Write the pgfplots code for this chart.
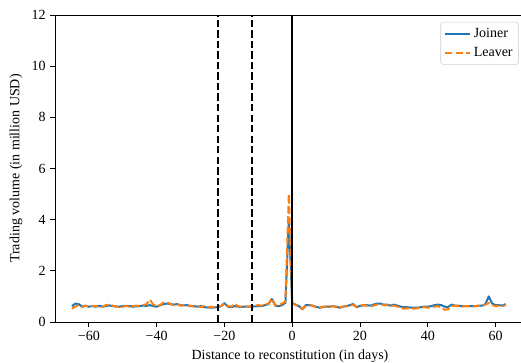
\documentclass[border=0pt]{standalone}
\usepackage{pgfplots}
\pgfplotsset{compat=1.18}
\usepackage{pgfplotstable}
\usepackage{fontspec}
\setmainfont{Liberation Serif}
\definecolor{tabblue}{HTML}{1F77B4}
\definecolor{taborange}{HTML}{FF7F0E}
\pgfplotstableread{
d j l
-65 0.62 0.52
-64 0.72 0.60
-63 0.70 0.66
-62 0.60 0.58
-61 0.63 0.64
-60 0.60 0.60
-59 0.62 0.63
-58 0.60 0.62
-57 0.63 0.61
-56 0.60 0.60
-55 0.62 0.66
-54 0.65 0.68
-53 0.62 0.64
-52 0.61 0.60
-51 0.60 0.58
-50 0.62 0.60
-49 0.63 0.62
-48 0.62 0.60
-47 0.60 0.62
-46 0.61 0.64
-45 0.62 0.62
-44 0.64 0.66
-43 0.63 0.70
-42 0.66 0.88
-41 0.62 0.68
-40 0.60 0.62
-39 0.65 0.66
-38 0.70 0.76
-37 0.72 0.78
-36 0.70 0.70
-35 0.68 0.66
-34 0.70 0.70
-33 0.66 0.64
-32 0.65 0.66
-31 0.66 0.62
-30 0.62 0.64
-29 0.62 0.60
-28 0.60 0.62
-27 0.62 0.58
-26 0.58 0.62
-25 0.57 0.56
-24 0.56 0.60
-23 0.57 0.58
-22 0.58 0.60
-21 0.62 0.62
-20 0.74 0.72
-19 0.60 0.62
-18 0.58 0.60
-17 0.62 0.72
-16 0.60 0.62
-15 0.59 0.60
-14 0.60 0.62
-13 0.60 0.60
-12 0.60 0.62
-11 0.61 0.64
-10 0.62 0.66
-9 0.62 0.64
-8 0.66 0.68
-7 0.70 0.72
-6 0.90 0.92
-5 0.64 0.66
-4 0.62 0.66
-3 0.66 0.72
-2 0.75 0.80
-1 4.00 5.00
0 0.74 0.76
1 0.68 0.66
2 0.62 0.62
3 0.50 0.52
4 0.66 0.62
5 0.66 0.66
6 0.64 0.64
7 0.60 0.58
8 0.56 0.56
9 0.58 0.60
10 0.60 0.60
11 0.60 0.58
12 0.62 0.62
13 0.60 0.58
14 0.56 0.58
15 0.60 0.60
16 0.62 0.62
17 0.66 0.64
18 0.70 0.66
19 0.58 0.60
20 0.63 0.64
21 0.65 0.66
22 0.66 0.64
23 0.64 0.62
24 0.68 0.64
25 0.72 0.68
26 0.72 0.70
27 0.68 0.66
28 0.68 0.66
29 0.64 0.62
30 0.68 0.64
31 0.64 0.60
32 0.60 0.56
33 0.58 0.52
34 0.58 0.54
35 0.56 0.52
36 0.56 0.52
37 0.56 0.54
38 0.58 0.56
39 0.60 0.58
40 0.60 0.56
41 0.62 0.58
42 0.66 0.60
43 0.68 0.62
44 0.66 0.56
45 0.60 0.48
46 0.58 0.50
47 0.68 0.62
48 0.64 0.64
49 0.64 0.62
50 0.62 0.60
51 0.62 0.62
52 0.62 0.62
53 0.62 0.60
54 0.62 0.62
55 0.63 0.64
56 0.64 0.62
57 0.70 0.68
58 1.00 0.74
59 0.72 0.66
60 0.66 0.62
61 0.66 0.64
62 0.64 0.62
63 0.70 0.66
}\datatab
\begin{document}
\begin{tikzpicture}
\begin{axis}[
  scale only axis,
  width=352.5pt, height=230.25pt,
  xmin=-70, xmax=68.7, ymin=0, ymax=12,
  xtick={-60,-40,-20,0,20,40,60},
  xticklabels={−60,−40,−20,0,20,40,60},
  ytick={0,2,4,6,8,10,12},
  yticklabels={0,2,4,6,8,10,12},
  tick align=outside,
  tick pos=left,
  major tick length=3.5pt,
  every tick/.style={black, line width=0.6pt},
  axis line style={line width=0.6pt},
  tick label style={font=\fontsize{10.5}{12}\selectfont},
  label style={font=\fontsize{10.5}{12}\selectfont},
  xlabel={Distance to reconstitution (in days)},
  ylabel={Trading volume (in million USD)},
  legend style={at={(0.987,0.978)}, anchor=north east, draw=black!20, rounded corners=2pt,
    font=\fontsize{10.5}{12}\selectfont, cells={anchor=west}, inner sep=2.5pt, row sep=2pt},
  legend cell align=left,
  legend image post style={xscale=1.1},
]
\addplot[tabblue, line width=1.5pt, line join=round] table[x=d, y=j] {\datatab};
\addlegendentry{Joiner}
\addplot[taborange, line width=1.5pt, dash pattern=on 5.5pt off 2.4pt] table[x=d, y=l] {\datatab};
\addlegendentry{Leaver}
\addplot[black, line width=1.5pt, dash pattern=on 5.5pt off 2.4pt, forget plot] coordinates {(-22,0) (-22,12)};
\addplot[black, line width=1.5pt, dash pattern=on 5.5pt off 2.4pt, forget plot] coordinates {(-12,0) (-12,12)};
\addplot[black, line width=1.5pt, forget plot] coordinates {(0,0) (0,12)};
\end{axis}
\pgfresetboundingbox
\useasboundingbox (-41.25pt,-30pt) rectangle (349.5pt,241.5pt);
\end{tikzpicture}
\end{document}
